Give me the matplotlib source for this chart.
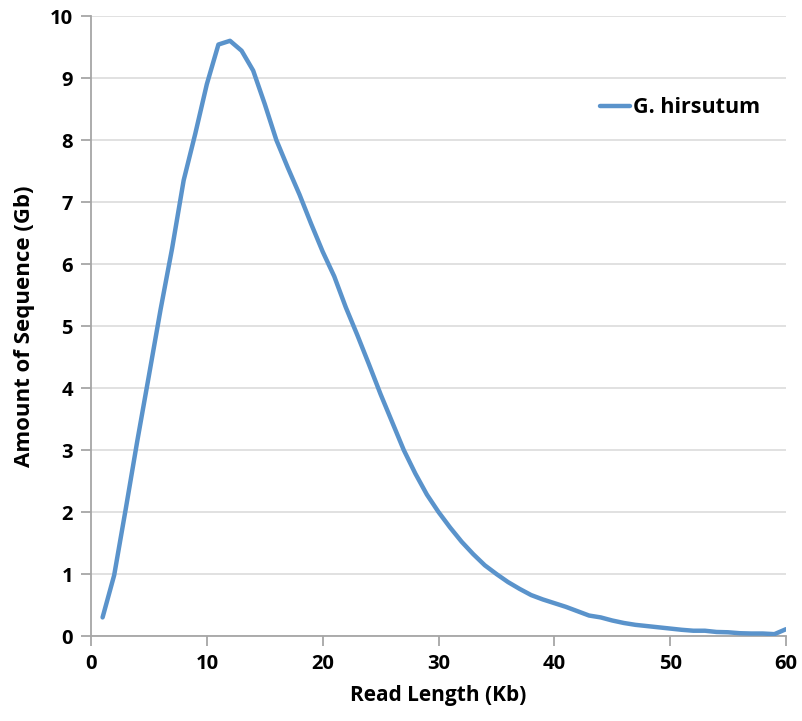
import matplotlib
matplotlib.use("Agg")
import matplotlib.pyplot as plt

plt.rcParams['font.family'] = ['Open Sans', 'DejaVu Sans']

read_length_kb = list(range(1, 61))
amount_gb = [
    0.30, 0.98, 2.05, 3.15, 4.20, 5.26, 6.25, 7.35, 8.10, 8.90,
    9.54, 9.60, 9.44, 9.12, 8.58, 8.00, 7.55, 7.12, 6.65, 6.20,
    5.80, 5.30, 4.85, 4.38, 3.90, 3.45, 3.00, 2.62, 2.28, 2.00,
    1.75, 1.52, 1.32, 1.14, 1.00, 0.87, 0.76, 0.66, 0.59, 0.53,
    0.47, 0.40, 0.33, 0.30, 0.25, 0.21, 0.18, 0.16, 0.14, 0.12,
    0.10, 0.085, 0.085, 0.065, 0.06, 0.045, 0.04, 0.04, 0.03, 0.11,
]
series_name = "G. hirsutum"
x_ticks = [0, 10, 20, 30, 40, 50, 60]
y_ticks = list(range(0, 11))

fig = plt.figure(figsize=(8.02, 7.21), dpi=100)
ax = fig.add_axes([91 / 802, 85 / 721, 695 / 802, 620 / 721])

ax.plot(read_length_kb, amount_gb, color='#5a93cb', linewidth=3.2,
        solid_capstyle='round', label=series_name, zorder=3)

ax.set_xlim(0, 60)
ax.set_ylim(0, 10)
ax.set_xticks(x_ticks)
ax.set_yticks(y_ticks)

ax.grid(axis='y', color='#dcdcdc', linewidth=1.2)
ax.set_axisbelow(True)
for side in ('top', 'right'):
    ax.spines[side].set_visible(False)
for side in ('left', 'bottom'):
    ax.spines[side].set_color('#a6a6a6')
    ax.spines[side].set_linewidth(1.3)

ax.tick_params(axis='both', direction='out', length=7, width=1.3,
               color='#a6a6a6', labelsize=14.5, pad=6)
for lab in ax.get_xticklabels() + ax.get_yticklabels():
    lab.set_fontweight('bold')

ax.set_xlabel("Read Length (Kb)", fontsize=15, fontweight='bold', labelpad=8)
ax.set_ylabel("Amount of Sequence (Gb)", fontsize=16, fontweight='bold', labelpad=11)

leg = ax.legend(loc='center left', bbox_to_anchor=(0.705, 0.852), frameon=False,
                handlelength=1.4, handletextpad=0.1,
                prop={'size': 15.5, 'weight': 'bold'})

fig.savefig("out.png", dpi=100)
